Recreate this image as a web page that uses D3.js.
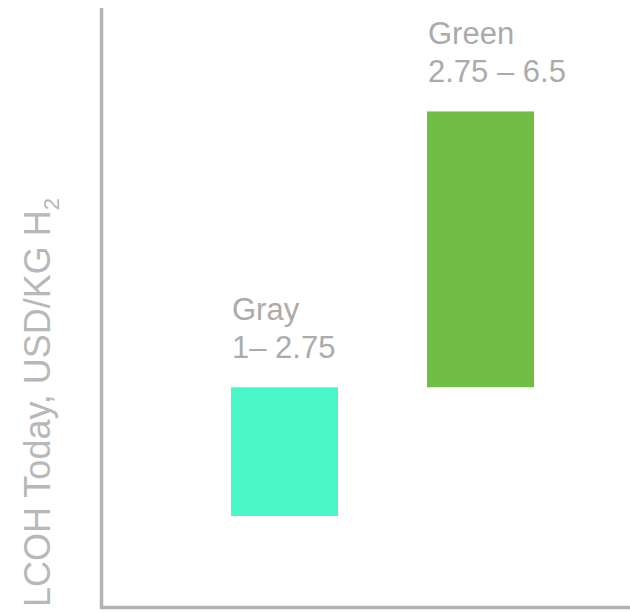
<!DOCTYPE html>
<html>
<head>
<meta charset="utf-8">
<script src="https://cdn.jsdelivr.net/npm/d3@7"></script>
<style>
  body { margin: 0; background: #fff; }
  text { font-family: "Liberation Sans", Arial, sans-serif; }
</style>
</head>
<body>
<svg id="chart" width="630" height="613"></svg>
<script>
// data: cost range per hydrogen type (USD/kg H2)
var categories  = ['Gray', 'Green'];
var lowValues   = [1, 2.75];
var highValues  = [2.75, 6.5];
var rangeLabels = ['1\u2013 2.75', '2.75 \u2013 6.5'];
var barColors   = ['#4af7c8', '#72be44'];

var svg = d3.select('#chart');

// scales ///////////////////////////////////////////////////////////////
var x = d3.scalePoint().domain(categories).range([284.5, 480.5]);
var y = d3.scaleLinear().domain([0, 8]).range([589.5, 1.1]);
var bw = 107;                                          // bar width

// axes: plain lines, no ticks
svg.append('line').attr('x1', 101.5).attr('x2', 101.5).attr('y1', 8).attr('y2', 609)
  .attr('stroke', '#b3b3b3').attr('stroke-width', 3.5);
svg.append('line').attr('x1', 100).attr('x2', 630).attr('y1', 607.5).attr('y2', 607.5)
  .attr('stroke', '#b3b3b3').attr('stroke-width', 3.5);

// bars (floating ranges)
svg.selectAll('rect.bar').data(categories).enter().append('rect')
  .attr('class', 'bar')
  .attr('x', function(d) { return x(d) - bw / 2 })
  .attr('width', bw)
  .attr('y', function(d, i) { return y(highValues[i]) })
  .attr('height', function(d, i) { return y(lowValues[i]) - y(highValues[i]) })
  .attr('fill', function(d, i) { return barColors[i] });

// labels above bars
var lab = svg.selectAll('g.lab').data(categories).enter().append('g')
  .attr('class', 'lab')
  .attr('transform', function(d, i) {
    return 'translate(' + (x(d) - bw / 2 + 1) + ',' + (y(highValues[i]) - 29) + ')' });
lab.append('text').attr('y', -38).text(function(d) { return d })
  .attr('font-size', 31).attr('fill', '#ababab');
lab.append('text').attr('y', 0).text(function(d, i) { return rangeLabels[i] })
  .attr('font-size', 31).attr('fill', '#ababab');

// y axis title
var t = svg.append('text')
  .attr('transform', 'translate(50,607) rotate(-90)')
  .attr('font-size', 36).attr('fill', '#b8b8b8');
t.append('tspan').text('LCOH Today, USD/KG H');
t.append('tspan').text('2').attr('font-size', 22).attr('dy', 9);
</script>
</body>
</html>
